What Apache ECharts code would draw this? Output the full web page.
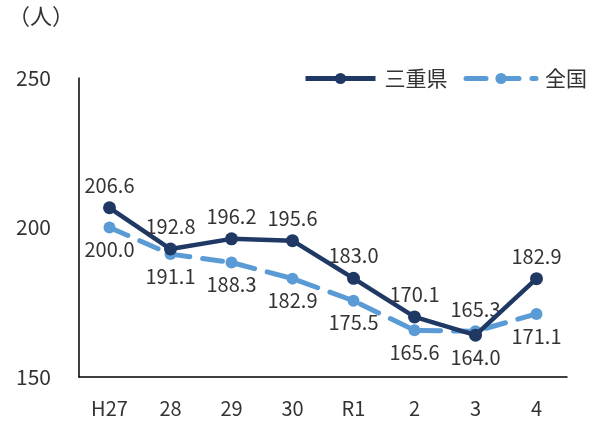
<!DOCTYPE html>
<html>
<head>
<meta charset="utf-8">
<script src="https://cdn.jsdelivr.net/npm/echarts@6/dist/echarts.min.js"></script>
<style>
  html, body { margin: 0; padding: 0; background: #fff; }
  #chart { width: 600px; height: 424px; }
</style>
</head>
<body>
<div id="chart"></div>
<script>
  const categories = ["H27", "28", "29", "30", "R1", "2", "3", "4"];
  const mie = [206.6, 192.8, 196.2, 195.6, 183.0, 170.1, 164.0, 182.9];
  const zenkoku = [200.0, 191.1, 188.3, 182.9, 175.5, 165.6, 165.3, 171.1];
  // label side per point: true = above
  const mieAbove = [true, true, true, true, true, true, false, true];
  const zenkokuAbove = [false, false, false, false, false, false, true, false];

  const font = "'Noto Sans CJK JP', 'Noto Sans', sans-serif";
  const textColor = "#333333";

  function withLabels(values, above) {
    return values.map((v, i) => ({
      value: v,
      label: { position: above[i] ? "top" : "bottom" },
    }));
  }

  const chart = echarts.init(document.getElementById("chart"));
  chart.setOption({
    animation: false,
    textStyle: { fontFamily: font },
    graphic: [
      {
        type: "text",
        left: 8,
        top: 5,
        style: { text: "（人）", font: "22px " + font, fill: textColor },
      },
    ],
    legend: {
      top: 63,
      right: 8,
      itemWidth: 70,
      itemHeight: 14,
      itemGap: 16,
      textStyle: { fontSize: 21, color: textColor, fontFamily: font, padding: [0, 0, 0, 4] },
      data: [
        { name: "三重県", lineStyle: { width: 5 } },
        { name: "全国", lineStyle: { width: 5 } },
      ],
    },
    grid: { left: 79, right: 33, top: 78, bottom: 47 },
    xAxis: {
      type: "category",
      data: categories,
      axisLine: { lineStyle: { color: "#000", width: 1.5 } },
      axisTick: { show: false },
      axisLabel: { fontSize: 20, color: textColor, margin: 21, fontFamily: font },
    },
    yAxis: {
      type: "value",
      min: 150,
      max: 250,
      interval: 50,
      axisLine: { show: true, lineStyle: { color: "#000", width: 1.5 } },
      axisTick: { show: false },
      splitLine: { show: false },
      axisLabel: { fontSize: 21, color: textColor, margin: 28, fontFamily: font },
    },
    series: [
      {
        name: "全国",
        type: "line",
        data: withLabels(zenkoku, zenkokuAbove),
        symbol: "circle",
        symbolSize: 12,
        z: 2,
        itemStyle: { color: "#5b9bd5" },
        lineStyle: { color: "#5b9bd5", width: 5, type: [20, 13], cap: "round" },
        label: { show: true, fontSize: 20, color: textColor, distance: 6, formatter: (p) => p.value.toFixed(1) },
      },
      {
        name: "三重県",
        type: "line",
        data: withLabels(mie, mieAbove),
        symbol: "circle",
        symbolSize: 13,
        z: 3,
        itemStyle: { color: "#1f3864" },
        lineStyle: { color: "#1f3864", width: 4.5 },
        label: { show: true, fontSize: 20, color: textColor, distance: 6, formatter: (p) => p.value.toFixed(1) },
      },
    ],
  });
</script>
</body>
</html>
